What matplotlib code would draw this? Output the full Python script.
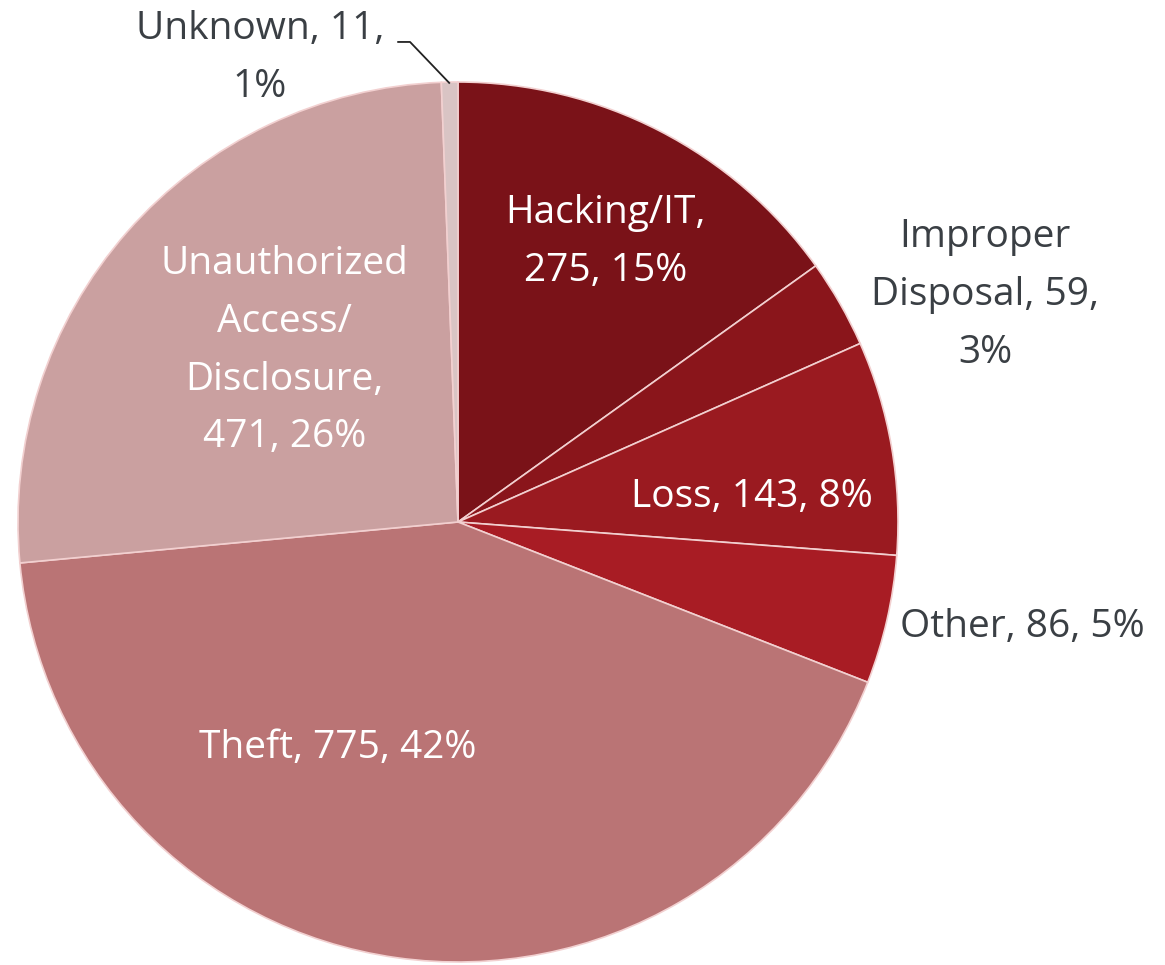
import matplotlib
matplotlib.use("Agg")
import matplotlib.pyplot as plt

labels = ["Hacking/IT", "Improper Disposal", "Loss", "Other", "Theft",
          "Unauthorized Access/ Disclosure", "Unknown"]
counts = [275, 59, 143, 86, 775, 471, 11]
pcts = ["15%", "3%", "8%", "5%", "42%", "26%", "1%"]
colors = ["#7A1218", "#8A151B", "#9A1A20", "#A81C24", "#BA7475", "#CAA0A0", "#D9C4C4"]

texts = [
    "Hacking/IT,\n275, 15%",
    "Improper\nDisposal, 59,\n3%",
    "Loss, 143, 8%",
    "Other, 86, 5%",
    "Theft, 775, 42%",
    "Unauthorized\nAccess/\nDisclosure,\n471, 26%",
    "Unknown, 11,\n1%",
]
text_pos = [(0.336, 0.636), (1.198, 0.516), (0.668, 0.057), (1.282, -0.239),
            (-0.273, -0.514), (-0.395, 0.389), (-0.45, 1.055)]
text_col = ["white", "#3A3F44", "white", "#3A3F44", "white", "white", "#3A3F44"]

plt.rcParams['font.family'] = ['Open Sans', 'DejaVu Sans']
fig = plt.figure(figsize=(11.65, 9.65), dpi=100)
ax = fig.add_axes([18 / 1165, (965 - 522 - 440) / 965, 880 / 1165, 880 / 965])
ax.pie(counts, colors=colors, startangle=90, counterclock=False, radius=1,
       wedgeprops=dict(edgecolor="#F2D0D0", linewidth=1.2))
for t, (x, y), c in zip(texts, text_pos, text_col):
    ax.text(x, y, t, ha="center", va="center", fontsize=28, color=c,
            linespacing=1.68)
ax.plot([-0.136, -0.109, -0.02], [1.091, 1.091, 0.998], color="#222222", lw=1.3,
        clip_on=False)
ax.set_xlim(-1, 1)
ax.set_ylim(-1, 1)
ax.set_aspect("equal")
ax.axis("off")
fig.savefig("out.png", dpi=100)
